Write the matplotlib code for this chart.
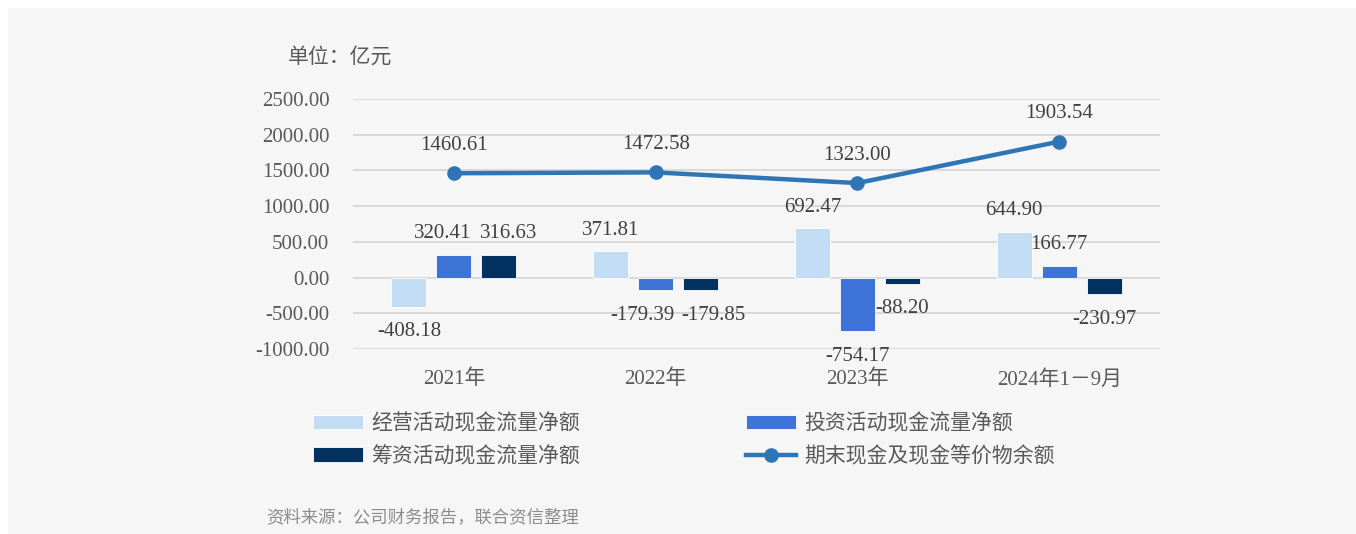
# -*- coding: utf-8 -*-
import matplotlib
matplotlib.use("Agg")
import matplotlib.pyplot as plt
import numpy as np

plt.rcParams["font.family"] = ["Liberation Serif", "Noto Sans CJK SC"]

categories = ["2021年", "2022年", "2023年", "2024年1－9月"]
operating = [-408.18, 371.81, 692.47, 644.90]
investing = [320.41, -179.39, -754.17, 166.77]
financing = [316.63, -179.85, -88.20, -230.97]
cash_end = [1460.61, 1472.58, 1323.00, 1903.54]
yticks = [-1000, -500, 0, 500, 1000, 1500, 2000, 2500]

names = ["经营活动现金流量净额", "投资活动现金流量净额",
         "筹资活动现金流量净额", "期末现金及现金等价物余额"]

LIGHT = "#c1dcf3"; BLUE = "#3e74d8"; DARK = "#00315f"; LINE = "#2e75b6"
TXT = "#404040"; TICK = "#595959"; BG = "#f6f6f6"; GRID = "#d9d9d9"

fig = plt.figure(figsize=(13.56, 5.34), dpi=100)
fig.patch.set_facecolor("white")
fig.patches.append(plt.Rectangle((8 / 1356, -0.05), 1.1, 1.05 - 8 / 534, transform=fig.transFigure,
                                 facecolor=BG, edgecolor="none", zorder=-10))

ax = fig.add_axes([353 / 1356, 1 - 349 / 534, 807 / 1356, 250 / 534])
ax.set_facecolor("none")
x = np.arange(len(categories))
w = 0.1735; off = 0.223

series = [(operating, LIGHT, -off), (investing, BLUE, 0), (financing, DARK, off)]
# horizontal nudges (pixels) for crowded labels
nudge = [[0, 0, 0, 0], [-11, -13, 0, 0], [10, 13, 0, 0]]
bars = []
for k, (vals, col, dx) in enumerate(series):
    b = ax.bar(x + dx, vals, w, color=col, edgecolor="white", linewidth=0.6, zorder=2)
    bars.append(b)
    for i, v in enumerate(vals):
        dy = 21 if v >= 0 else -25
        ax.annotate(f"{v:.2f}", (x[i] + dx, v), xytext=(nudge[k][i], dy),
                    textcoords="offset pixels", ha="center", va="center",
                    fontsize=15, color=TXT, zorder=5)

ln, = ax.plot(x, cash_end, color=LINE, lw=3.2, marker="o", ms=9.5, zorder=4)
for i, v in enumerate(cash_end):
    ax.annotate(f"{v:.2f}", (x[i], v), xytext=(0, 28), textcoords="offset pixels",
                ha="center", va="center", fontsize=15, color=TXT, zorder=5)

ax.set_xlim(-0.5, 3.5)
ax.set_ylim(-1000, 2500)
ax.set_yticks(yticks)
ax.set_yticklabels([f"{t:.2f}" for t in yticks])
ax.set_xticks(x)
ax.set_xticklabels(categories)
ax.tick_params(axis="both", length=0, labelsize=15, colors=TICK)
ax.tick_params(axis="y", pad=17)
ax.tick_params(axis="x", pad=15)
ax.grid(axis="y", color=GRID, lw=1.4, zorder=0)
ax.set_axisbelow(True)
for s in ax.spines.values():
    s.set_visible(False)

fig.text(288 / 1356, 1 - 58 / 534, "单位：亿元", fontsize=15, color=TICK, ha="left", va="center")
fig.text(266 / 1356, 1 - 518 / 534, "资料来源：公司财务报告，联合资信整理", fontsize=12.5,
         color="#8c8c8c", ha="left", va="center")

handles = [bars[0], bars[2], bars[1], ln]
labels = [names[0], names[2], names[1], names[3]]
leg = fig.legend(handles, labels, ncol=2, loc="upper left",
                 bbox_to_anchor=(313 / 1356, 1 - 414 / 534), frameon=False,
                 fontsize=15, handlelength=2.4, handletextpad=0.4,
                 columnspacing=7.95, labelspacing=0.58, borderpad=0, borderaxespad=0)
for t in leg.get_texts():
    t.set_color(TICK)

fig.savefig("out.png", dpi=100, facecolor="white")
